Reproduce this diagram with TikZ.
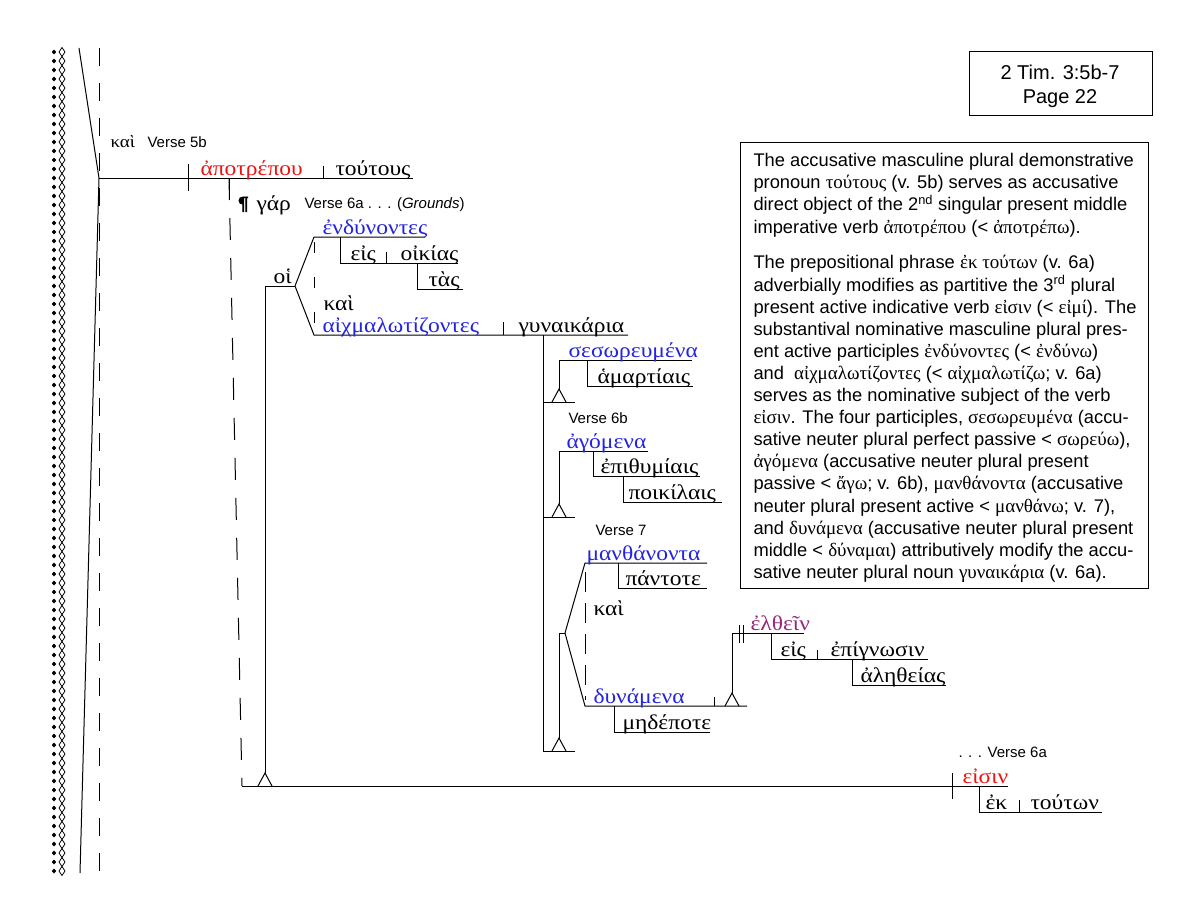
\documentclass[tikz,border=0pt]{standalone}
\usepackage{fontspec}
\setmainfont{Liberation Sans}
\newfontfamily\grk[FakeStretch=1.12]{Liberation Serif}
\newfontfamily\grkb{Liberation Serif}
\newfontfamily\pilcrowfont[FakeBold=4]{DejaVu Serif}
\usetikzlibrary{positioning}
\definecolor{verbred}{RGB}{235,20,20}
\definecolor{ptcblue}{RGB}{35,35,225}
\definecolor{infpurple}{RGB}{150,40,120}
\tikzset{
  word/.style={anchor=base west, inner sep=0pt, font=\grk\fontsize{21}{21}\selectfont},
  smallword/.style={anchor=base west, inner sep=0pt, font=\grk\fontsize{17}{17}\selectfont},
  verbword/.style={word, text=verbred},
  ptcword/.style={word, text=ptcblue},
  infword/.style={word, text=infpurple},
  versenote/.style={anchor=base west, inner sep=0pt, font=\fontsize{15}{15}\selectfont},
  boxtext/.style={anchor=north west, inner sep=0pt, align=left, font=\fontsize{18.3}{22.1}\selectfont},
  pagetext/.style={anchor=base, inner sep=0pt, font=\fontsize{20}{20}\selectfont},
  longdash/.style={dash pattern=on 18pt off 17pt},
  slantdash/.style={dash pattern=on 22pt off 18pt},
  shortdash/.style={dash pattern=on 11pt off 24pt},
}
% participle stand: apex above the base line
\newcommand{\ptcstand}[2]{\draw (#1-7,#2) -- (#1,#2-13) -- (#1+7,#2);}
\newcommand{\gk}[1]{{\grkb\fontsize{19}{19}\selectfont #1}}

\begin{document}
\begin{tikzpicture}[x=1pt, y=-1pt, line width=1pt]
  \useasboundingbox (0,0) rectangle (1201,922);

  % left margin
  \foreach \y in {52,61,...,871}
    \fill (54,\y) +(0,-2.5) -- +(2.2,0) -- +(0,2.5) -- +(-2.2,0) -- cycle;
  \foreach \y in {52,61,...,871}
    \draw[line width=0.8pt] (62,\y) +(0,-4.5) -- +(3,0) -- +(0,4.5) -- +(-3,0) -- cycle;
  \draw (79,48) -- (99,178) -- (80,873);
  \draw[longdash] (99,48) -- (99,873);

  % Verse 5b
  \node[smallword] (kai1) at (110,147) {καὶ};
  \node[versenote] (v5b) at (147,147) {Verse 5b};
  \draw (99,178) -- (413,178);
  \draw (188,164) -- (188,191);
  \draw (323,166) -- (323,178);
  \node[verbword] (apotrepou) at (200,175) {ἀποτρέπου};
  \node[word] (toutous) at (335,175) {τούτους};

  % Verse 6a
  \draw (229,178) -- (229,200);
  \draw[slantdash] (229,178) -- (242,786);
  \node[anchor=base west, inner sep=0pt, font=\pilcrowfont\fontsize{18}{18}\selectfont] (para) at (237,210) {¶};
  \node[word] (gar) at (256,210) {γάρ};
  \node[versenote] (v6a) at (304,208) {Verse 6a . . . (\textit{Grounds})};

  \draw (242,786) -- (1008,786);
  \draw (952,773) -- (952,799);
  \node[verbword] (eisin) at (962,783) {εἰσιν};
  \node[versenote] (v6aend) at (958,757) {. . . Verse 6a};
  \draw (979,786) -- (979,812) -- (1102,812);
  \draw (1019,800) -- (1019,812);
  \node[word] (ek) at (985,809) {ἐκ};
  \node[word] (toutwn) at (1030,809) {τούτων};

  % subject
  \draw (265,286) -- (265,773);
  \ptcstand{265}{786}
  \draw (265,286) -- (295,286);
  \node[word] (hoi) at (273,283) {οἱ};
  \draw (295,286) -- (314,237) -- (425,237);
  \draw (295,286) -- (314,335) -- (628,335);
  \draw[shortdash] (314,242) -- (314,335);
  \node[ptcword] (endynontes) at (322,234) {ἐνδύνοντες};
  \node[word] (kai2) at (323,310) {καὶ};
  \node[ptcword] (aichm) at (322,332) {αἰχμαλωτίζοντες};
  \draw (503,322) -- (503,335);
  \node[word] (gynaikaria) at (518,332) {γυναικάρια};
  \draw (340,237) -- (340,263) -- (458,263);
  \draw (386,252) -- (386,263);
  \node[word] (eis1) at (350,260) {εἰς};
  \node[word] (oikias) at (400,260) {οἰκίας};
  \draw (417,263) -- (417,289) -- (463,289);
  \node[word] (tas) at (428,286) {τὰς};

  % participles on gynaikaria
  \draw (543,335) -- (543,751);
  \draw (559,360) -- (692,360);
  \node[ptcword] (seswr) at (568,357) {σεσωρευμένα};
  \draw (559,360) -- (559,390);
  \ptcstand{559}{402}
  \draw (543,402) -- (575,402);
  \draw (587,360) -- (587,386) -- (693,386);
  \node[word] (hamartiais) at (597,383) {ἁμαρτίαις};

  \node[versenote] (v6b) at (568,423) {Verse 6b};
  \draw (559,451) -- (648,451);
  \node[ptcword] (agomena) at (566,448) {ἀγόμενα};
  \draw (559,451) -- (559,504);
  \ptcstand{559}{517}
  \draw (543,517) -- (575,517);
  \draw (593,451) -- (593,476) -- (700,476);
  \node[word] (epithymiais) at (600,473) {ἐπιθυμίαις};
  \draw (623,476) -- (623,502) -- (722,502);
  \node[word] (poikilais) at (628,499) {ποικίλαις};

  \node[versenote] (v7) at (595,535) {Verse 7};
  \draw (559,633) -- (565,633);
  \draw (565,633) -- (585,563) -- (707,563);
  \draw (565,633) -- (585,706) -- (747,706);
  \draw[dash pattern=on 20pt off 11pt] (585,572) -- (585,700);
  \node[ptcword] (manth) at (586,560) {μανθάνοντα};
  \draw (618,563) -- (618,588) -- (707,588);
  \node[word] (pantote) at (625,585) {πάντοτε};
  \node[word] (kai3) at (593,615) {καὶ};
  \node[ptcword] (dynamena) at (593,703) {δυνάμενα};
  \draw (559,633) -- (559,738);
  \ptcstand{559}{751}
  \draw (543,751) -- (575,751);
  \draw (614,706) -- (614,732) -- (710,732);
  \node[word] (medepote) at (622,729) {μηδέποτε};

  % infinitive
  \draw (714,697) -- (714,706);
  \ptcstand{732}{706}
  \draw (732,693) -- (732,633) -- (804,633);
  \draw (739,625) -- (739,643);
  \draw (743,625) -- (743,643);
  \node[infword] (elthein) at (750,630) {ἐλθεῖν};
  \draw (771,633) -- (771,659) -- (928,659);
  \draw (817,650) -- (817,659);
  \node[word] (eis2) at (780,656) {εἰς};
  \node[word] (epignwsin) at (830,656) {ἐπίγνωσιν};
  \draw (852,659) -- (852,685) -- (946,685);
  \node[word] (aletheias) at (860,682) {ἀληθείας};

  % page box
  \draw (969,51) rectangle (1152,115);
  \node[pagetext] (ref) at (1060,79) {2 Tim. 3:5b-7};
  \node[pagetext] (page) at (1060,103) {Page 22};

  % notes
  \draw (740,142) rectangle (1148,588);
  \node[boxtext] (notea) at (753,153) {The accusative masculine plural demonstrative\\
    pronoun \gk{τούτους} (v. 5b) serves as accusative\\
    direct object of the 2\textsuperscript{nd} singular present middle\\
    imperative verb \gk{ἀποτρέπου} (< \gk{ἀποτρέπω}).};
  \node[boxtext] (noteb) at (753,255) {The prepositional phrase \gk{ἐκ τούτων} (v. 6a)\\
    adverbially modifies as partitive the 3\textsuperscript{rd} plural\\
    present active indicative verb \gk{εἰσιν} (< \gk{εἰμί}). The\\
    substantival nominative masculine plural pres-\\
    ent active participles \gk{ἐνδύνοντες} (< \gk{ἐνδύνω})\\
    and \ \gk{αἰχμαλωτίζοντες} (< \gk{αἰχμαλωτίζω}; v. 6a)\\
    serves as the nominative subject of the verb\\
    \gk{εἰσιν}. The four participles, \gk{σεσωρευμένα} (accu-\\
    sative neuter plural perfect passive < \gk{σωρεύω}),\\
    \gk{ἀγόμενα} (accusative neuter plural present\\
    passive < \gk{ἄγω}; v. 6b), \gk{μανθάνοντα} (accusative\\
    neuter plural present active < \gk{μανθάνω}; v. 7),\\
    and \gk{δυνάμενα} (accusative neuter plural present\\
    middle < \gk{δύναμαι}) attributively modify the accu-\\
    sative neuter plural noun \gk{γυναικάρια} (v. 6a).};
\end{tikzpicture}
\end{document}
